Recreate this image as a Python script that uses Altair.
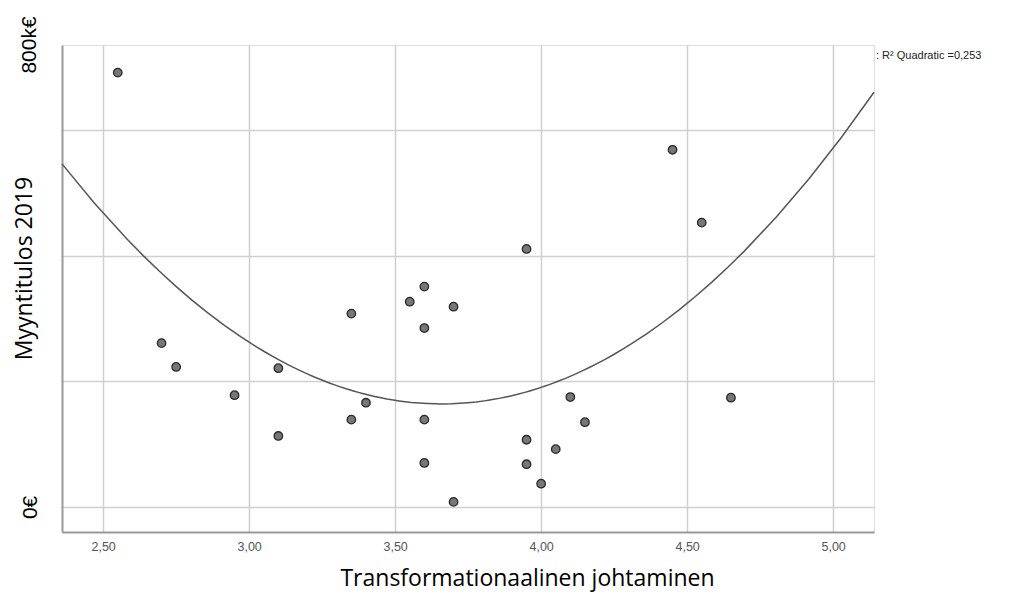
import altair as alt
import pandas as pd

# Transformationaalinen johtaminen (x) and Myyntitulos 2019 in k€ (y)
x_vals = [2.55, 2.70, 2.75, 2.95, 3.10, 3.10, 3.35, 3.35, 3.40, 3.55, 3.60, 3.60, 3.60,
          3.60, 3.70, 3.70, 3.95, 3.95, 3.95, 4.00, 4.05, 4.10, 4.15, 4.45, 4.55, 4.65]
y_vals = [692, 261, 223, 178, 221, 113, 308, 139, 166, 327, 351, 285, 139,
          70, 319, 8, 411, 107, 68, 37, 92, 175, 135, 569, 453, 174]

x_ticks = [2.5, 3.0, 3.5, 4.0, 4.5, 5.0]
y_grid = [0, 200, 400, 600]
x_domain = [2.359, 5.14]
y_domain = [-40, 736]
top_label = ["800k€"]
top_value = [736]
r2_text = [": R² Quadratic =0,253"]

df = pd.DataFrame({"x": x_vals, "y": y_vals})

xs = alt.Scale(domain=x_domain, nice=False, zero=False)
ys = alt.Scale(domain=y_domain, nice=False, zero=False)

x_axis = alt.Axis(
    values=x_ticks, labelExpr="replace(format(datum.value, '.2f'), '.', ',')",
    ticks=False, labelFont="Liberation Sans", labelFontSize=12.5, labelColor="#555",
    labelFontWeight=500, labelPadding=8, domainColor="#999", domainWidth=2,
    gridColor="#d0d0d0", gridWidth=1.5,
    title="Transformationaalinen johtaminen", titleFont="Open Sans",
    titleFontSize=23, titleFontWeight="normal", titleColor="#000",
    titleX=465, titleY=46, titleBaseline="middle", titleAlign="center",
)
y_axis = alt.Axis(
    values=y_grid,
    labelExpr="datum.value == 0 ? '0€' : ''",
    ticks=False, labelAngle=-90, labelFont="Liberation Sans", labelFontSize=21,
    labelColor="#000", labelPadding=22, labelAlign="center", labelBaseline="bottom",
    domainColor="#999", domainWidth=2,
    gridWidth=1.5, gridColor="#d0d0d0",
    title="Myyntitulos 2019", titleFont="Open Sans", titleFontSize=23,
    titleFontWeight="normal", titleColor="#000", titleAngle=-90,
    titleX=-38, titleY=223, titleBaseline="middle", titleAlign="center",
)

base = alt.Chart(df)

points = base.mark_point(
    filled=True, shape="circle", size=72, fill="#777777", stroke="#2a2a2a",
    strokeWidth=1.3, opacity=1,
).encode(x=alt.X("x:Q", scale=xs, axis=x_axis), y=alt.Y("y:Q", scale=ys, axis=y_axis))

curve = base.transform_regression(
    "x", "y", method="poly", order=2, extent=x_domain
).mark_line(color="#555", strokeWidth=1.5).encode(
    x=alt.X("x:Q", scale=xs), y=alt.Y("y:Q", scale=ys)
)

top = alt.Chart(pd.DataFrame({"t": top_label, "v": top_value})).mark_text(
    angle=270, align="center", baseline="bottom", font="Liberation Sans",
    fontSize=21, color="#000",
).encode(text="t:N", y=alt.Y("v:Q", scale=ys), x=alt.value(-22))

label = alt.Chart(pd.DataFrame({"t": r2_text})).mark_text(
    align="left", baseline="middle", font="Liberation Sans", fontSize=11, color="#222"
).encode(text="t:N", x=alt.value(814), y=alt.value(11))

chart = alt.layer(curve, points, top, label).properties(
    width=812, height=487, autosize=alt.AutoSizeParams(type="none"),
    padding={"left": 54, "top": 37, "right": 130, "bottom": 60},
).configure_view(stroke="transparent", strokeWidth=0).configure(background="white")

chart.save("out.html", embed_options={"renderer": "svg", "actions": False})
